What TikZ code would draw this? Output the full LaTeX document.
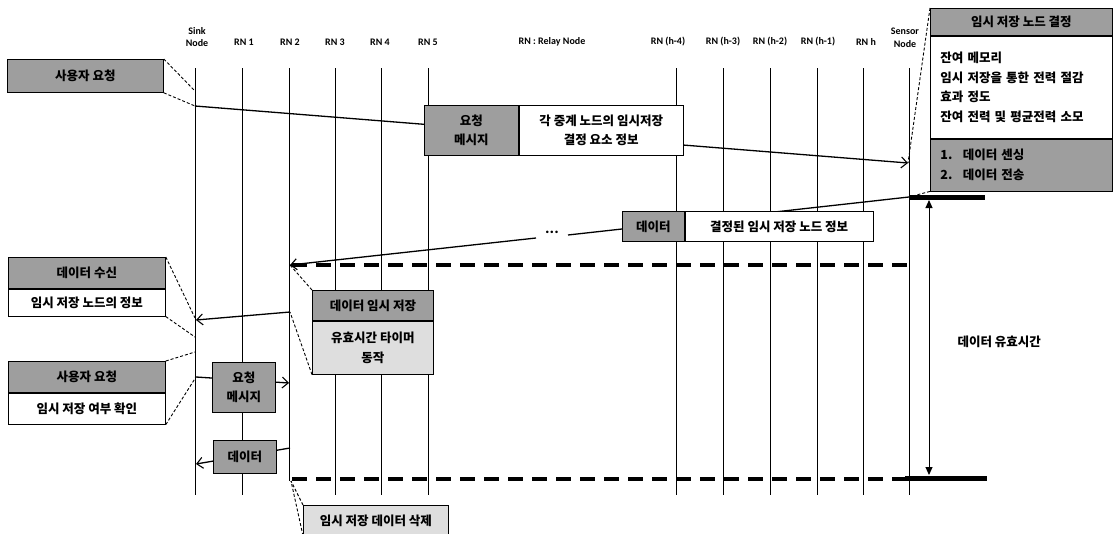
\documentclass[tikz,border=0pt]{standalone}
\usepackage{fontspec}
\newfontfamily\kr{Noto Sans CJK KR}
\newfontfamily\lbl{Carlito}
\usetikzlibrary{arrows.meta,positioning}

\tikzset{
  lifeline/.style={line width=0.8pt},
  hdr/.style={font=\lbl\bfseries\fontsize{10}{12.5}\selectfont, align=center},
  darkbox/.style={draw, line width=0.8pt, fill=black!38, inner sep=0pt, anchor=north west,
    font=\kr\bfseries\fontsize{12.5}{19.5}\selectfont, align=center},
  whitebox/.style={darkbox, fill=white},
  lightbox/.style={darkbox, fill=black!13},
  callout/.style={line width=0.9pt, dash pattern=on 3pt off 2pt},
  msg/.style={line width=1.3pt, -{Straight Barb[length=6pt,width=11pt,line width=1.1pt]}},
  gapline/.style={line width=4pt, dash pattern=on 15pt off 9pt},
  bar/.style={line width=5pt},
  span/.style={line width=1pt, {Triangle[length=8pt,width=7pt]}-{Triangle[length=8pt,width=7pt]}},
}

\begin{document}
\begin{tikzpicture}[x=1pt,y=-1pt]
\useasboundingbox (0,0) rectangle (1119,533);

% lifelines
\foreach \n/\x in {sink/195,rna/242,rnc/335,rnd/381,rne/428,rnf/676,rng/723,rnh/770,rni/817,rnj/863,sensor/909} {
  \coordinate (\n-top) at (\x,68);
  \coordinate (\n-bot) at (\x,495);
  \draw[lifeline] (\n-top) -- (\n-bot);
}
\coordinate (rnb-top) at (289,68);
\coordinate (rnb-bot) at (289,481);
\draw[lifeline] (rnb-top) -- (rnb-bot);

% node names
\node[hdr] (sinkLbl) at (197,37) {Sink\\Node};
\node[hdr] (rnaLbl) at (244,42) {RN 1};
\node[hdr] (rnbLbl) at (290,42) {RN 2};
\node[hdr] (rncLbl) at (335,42) {RN 3};
\node[hdr] (rndLbl) at (380,42) {RN 4};
\node[hdr] (rneLbl) at (428,42) {RN 5};
\node[hdr] (keyLbl) at (552,42) {RN : Relay Node};
\node[hdr] (rnfLbl) at (668,42) {RN (h-4)};
\node[hdr] (rngLbl) at (723,42) {RN (h-3)};
\node[hdr] (rnhLbl) at (770,42) {RN (h-2)};
\node[hdr] (rniLbl) at (818,42) {RN (h-1)};
\node[hdr] (rnjLbl) at (866,42) {RN h};
\node[hdr] (sensorLbl) at (905,38) {Sensor\\Node};

% messages
\coordinate (m1a) at (195,106);
\coordinate (m1b) at (908,163);
\draw[msg] (m1a) -- (m1b);

\coordinate (m2a) at (909,197);
\coordinate (m2b) at (290,265);
\coordinate (m2c) at (568,235);
\coordinate (m2d) at (536,238);
\draw[line width=1.3pt] (m2a) -- (m2c);
\node[font=\lbl\bfseries\fontsize{17}{17}\selectfont] (dots) at (552,232) {...};
\draw[msg] (m2d) -- (m2b);

\coordinate (m3a) at (290,312);
\coordinate (m3b) at (196,320);
\draw[msg] (m3a) -- (m3b);

\coordinate (m4a) at (196,377);
\coordinate (m4b) at (289,383);
\draw[msg] (m4a) -- (m4b);

\coordinate (m5a) at (290,448);
\coordinate (m5b) at (196,464);
\draw[msg] (m5a) -- (m5b);

% holding period
\coordinate (g1a) at (292,265);
\coordinate (g1b) at (909,265);
\coordinate (g2a) at (292,479);
\coordinate (g2b) at (909,479);
\draw[gapline] (g1a) -- (g1b);
\draw[gapline] (g2a) -- (g2b);
\coordinate (barA) at (985,197);
\coordinate (barB1) at (905,478);
\coordinate (barB2) at (987,478);
\draw[bar] (m2a) -- (barA);
\draw[bar] (barB1) -- (barB2);
\coordinate (vt1) at (929,200);
\coordinate (vt2) at (929,475);
\draw[span] (vt1) -- (vt2);
\node[anchor=west, font=\kr\bfseries\fontsize{12.5}{14}\selectfont] (vtLbl) at (954,342) {데이터 유효시간};

% boxes
\node[darkbox, minimum width=156, minimum height=33] (askA) at (7,59) {사용자 요청};

\node[darkbox, minimum width=94, minimum height=50] (reqA) at (424,105) {요청\\메시지};
\node[whitebox, minimum width=164, minimum height=50] (reqB) at (reqA.north east) {각 중계 노드의 임시저장\\결정 요소 정보};

\node[darkbox, minimum width=182, minimum height=27] (decA) at (930,8) {임시 저장 노드 결정};
\node[whitebox, minimum height=102, text width=162, inner xsep=10, align=left] (decB) at (decA.south west)
  {잔여 메모리\\임시 저장을 통한 전력 절감\\효과 정도\\잔여 전력 및 평균전력 소모};
\node[darkbox, minimum height=52, text width=162, inner xsep=10, align=left] (decC) at (decB.south west)
  {1.\enspace\ 데이터 센싱\\2.\enspace\ 데이터 전송};

\node[darkbox, minimum width=62, minimum height=30] (datA) at (622,211) {데이터};
\node[whitebox, minimum width=188, minimum height=30] (datB) at (datA.north east) {결정된 임시 저장 노드 정보};

\node[darkbox, minimum width=157, minimum height=31] (rxA) at (8,257) {데이터 수신};
\node[whitebox, minimum width=157, minimum height=27] (rxB) at (rxA.south west) {임시 저장 노드의 정보};

\node[darkbox, minimum width=121, minimum height=30] (tmpA) at (312,290) {데이터 임시 저장};
\node[lightbox, minimum width=121, minimum height=53] (tmpB) at (tmpA.south west) {유효시간 타이머\\동작};

\node[darkbox, minimum width=157, minimum height=31] (askC) at (8,361) {사용자 요청};
\node[whitebox, minimum width=157, minimum height=31] (askD) at (askC.south west) {임시 저장 여부 확인};

\node[darkbox, minimum width=63, minimum height=50] (reqC) at (212,362) {요청\\메시지};
\node[darkbox, minimum width=63, minimum height=33] (datC) at (213,440) {데이터};

\node[lightbox, minimum width=145, minimum height=30] (del) at (303,505) {임시 저장 데이터 삭제};

% callouts
\coordinate (c1) at (194,90);
\draw[callout] (askA.north east) -- (c1);
\draw[callout] (askA.south east) -- (m1a);
\draw[callout] (decA.north west) -- (m1b);
\draw[callout] (decC.south west) -- (m2a);
\coordinate (c2) at (195,318);
\coordinate (c3) at (195,337);
\draw[callout] (rxA.north east) -- (c2);
\draw[callout] (rxB.south east) -- (c3);
\draw[callout] (tmpA.north west) -- (m2b);
\draw[callout] (tmpB.south west) -- (m3a);
\coordinate (c4) at (195,352);
\draw[callout] (askC.north east) -- (c4);
\draw[callout] (askD.south east) -- (m4a);
\coordinate (c5) at (291,481);
\draw[callout] (del.north west) -- (c5);
\draw[callout] (del.south west) -- (c5);
\end{tikzpicture}
\end{document}
